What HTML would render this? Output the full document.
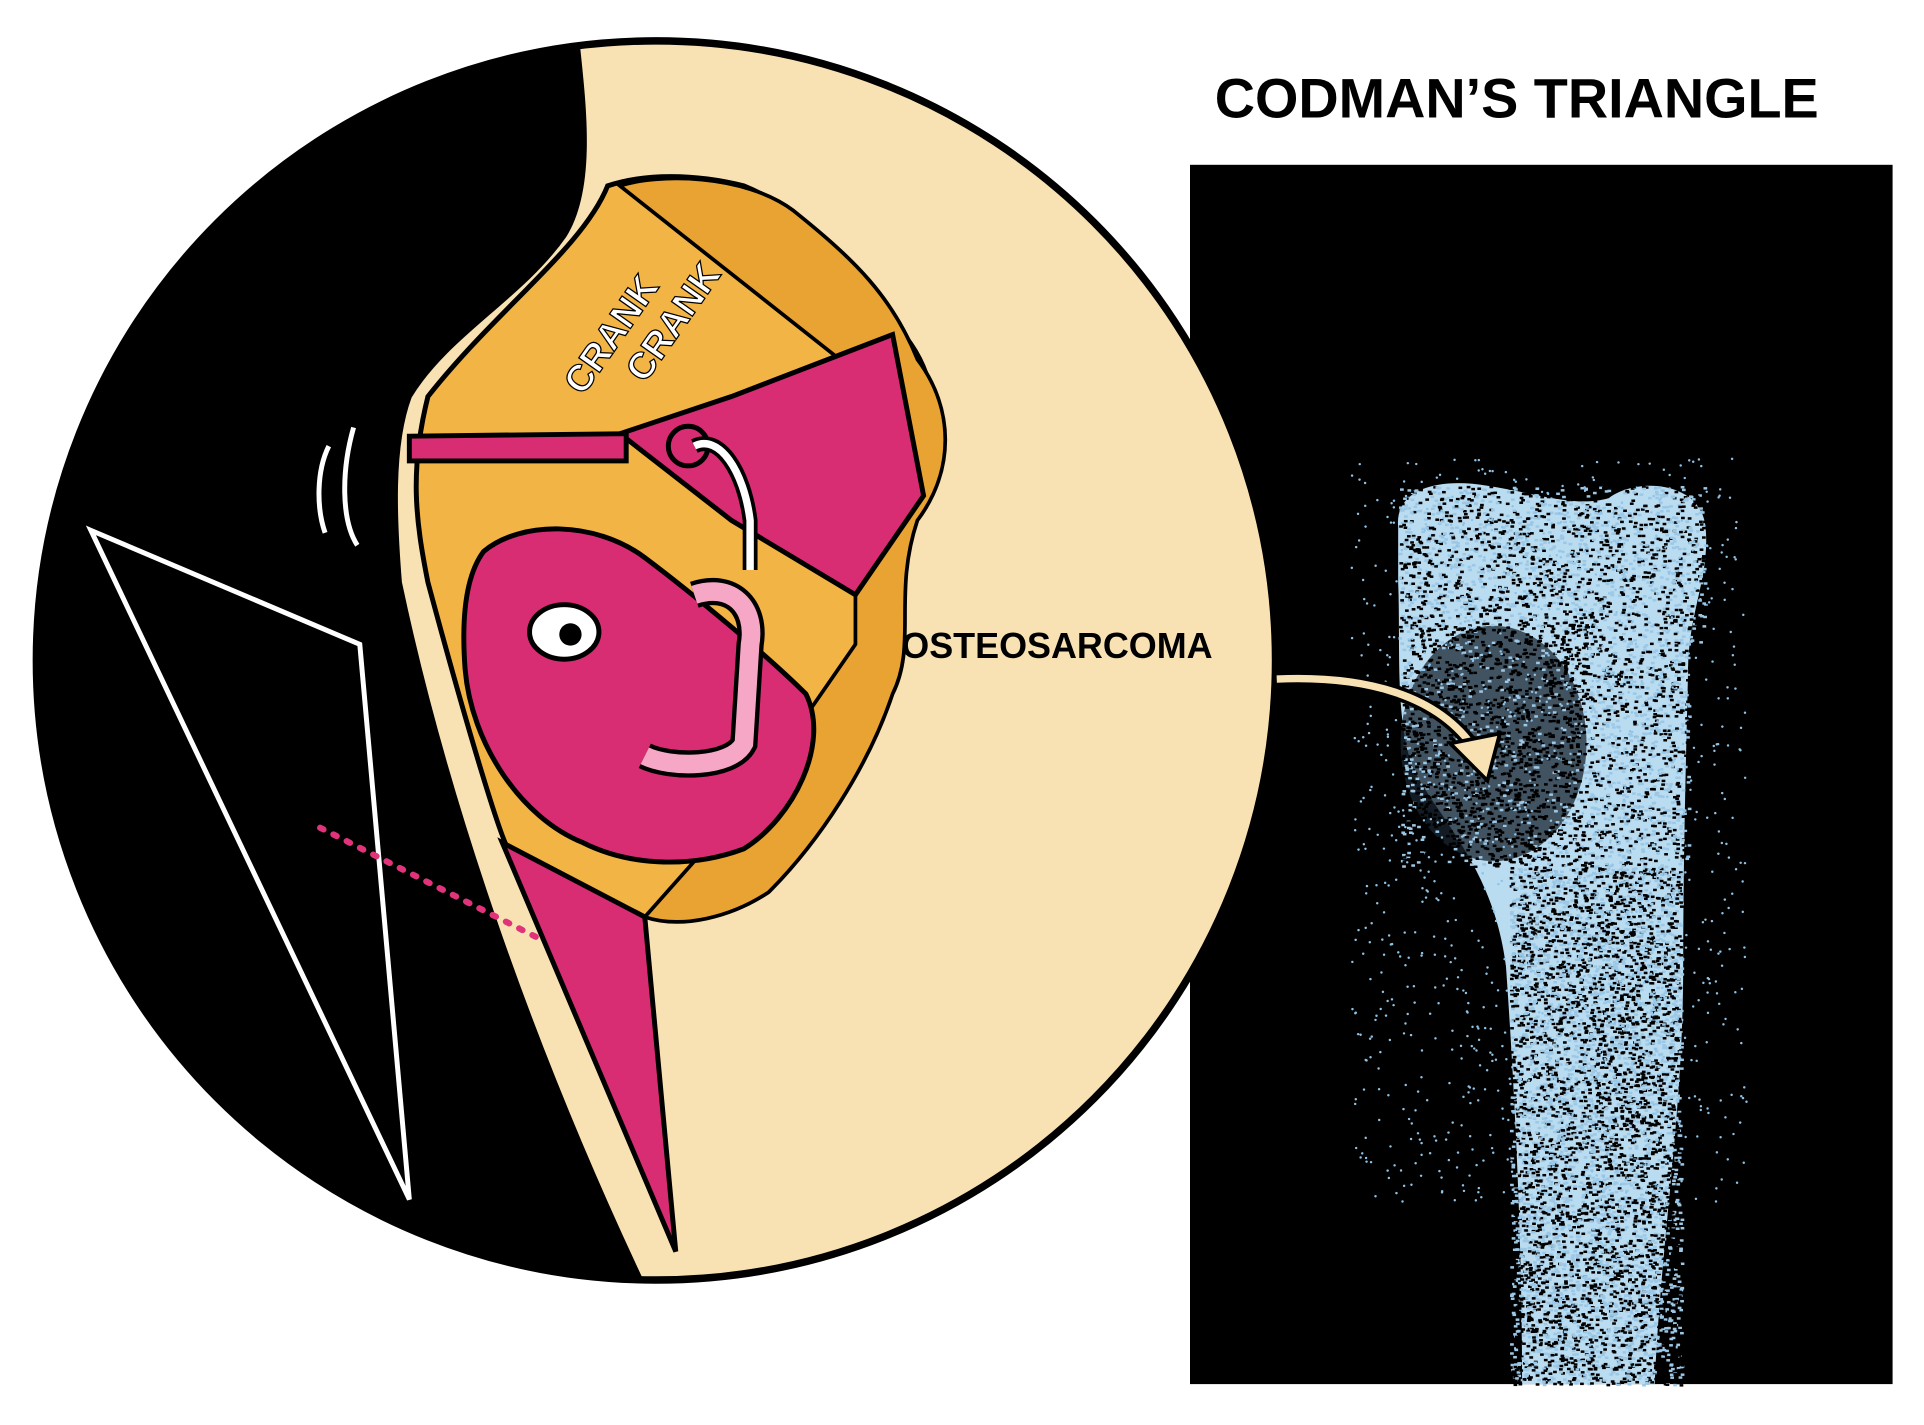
<!DOCTYPE html>
<html><head><meta charset="utf-8"><style>
html,body{margin:0;padding:0;background:#fff;width:1924px;height:1425px;overflow:hidden}
svg{display:block}
text{font-family:"Liberation Sans",sans-serif;font-weight:bold}
</style></head><body>
<svg id="s" width="1924" height="1425" viewBox="0 0 1552 1150" xmlns="http://www.w3.org/2000/svg">
<defs>
<clipPath id="circ"><circle cx="529" cy="533" r="500"/></clipPath>
</defs>
<rect width="1552" height="1150" fill="#fff"/>
<text x="980" y="95" font-size="45">CODMAN’S TRIANGLE</text>
<rect x="960" y="133" width="567" height="984" fill="#000"/>
<path id="bp" d="M1128,425 C1125,395 1160,385 1200,392 C1240,398 1270,410 1298,402 C1320,385 1372,388 1376,425 C1380,465 1362,495 1362,540 C1360,620 1358,700 1358,780 C1358,900 1340,1000 1335,1117 L1228,1117 C1228,1000 1222,880 1215,780 C1205,700 1160,660 1140,620 C1125,580 1130,520 1128,470 Z" fill="#b9dcf1"/>
<ellipse cx="1205" cy="600" rx="75" ry="95" fill="#1a2630" opacity="0.75"/>
<g id="spk"></g>
<g clip-path="url(#circ)">
<rect x="0" y="0" width="1100" height="1100" fill="#000"/>
<path d="M465,30 C470,80 480,150 455,190 C420,240 360,270 330,320 C315,360 318,420 322,470 C360,650 430,850 520,1040 L1100,1040 L1100,0 L465,0 Z" fill="#f8e2b3" stroke="#000" stroke-width="4"/>
<path d="M490,150 C470,200 400,250 345,320 C330,380 335,420 345,470 C380,600 405,680 410,685 L520,740 C600,700 650,680 680,600 C720,550 720,480 740,400 C760,350 760,300 720,260 C690,220 650,170 600,150 C560,140 520,140 490,150 Z" fill="#f2b445" stroke="#000" stroke-width="4"/>
<path d="M500,150 C530,140 600,140 640,170 C690,210 720,240 740,290 C770,330 770,380 740,420 C720,480 740,520 720,560 C700,620 660,680 620,720 C590,740 550,750 520,740 L600,650 L690,520 L690,300 Z" fill="#e8a332" stroke="#000" stroke-width="3"/>
<path d="M405,680 L520,740 L545,1010 Z" fill="#d92d73" stroke="#000" stroke-width="4"/>
<path d="M390,445 C420,420 480,420 520,450 C560,480 620,530 650,560 C670,600 640,660 600,685 C560,700 510,700 470,680 C420,660 380,600 375,540 C372,500 375,465 390,445 Z" fill="#d92d73" stroke="#000" stroke-width="4"/>
<path d="M500,350 L590,320 L720,270 L745,400 L690,480 L590,420 Z" fill="#d92d73" stroke="#000" stroke-width="4"/>
<path d="M330,352 L505,350 L505,372 L330,372 Z" fill="#d92d73" stroke="#000" stroke-width="4"/>
<circle cx="555" cy="360" r="16" fill="#d92d73" stroke="#000" stroke-width="4"/>
<path d="M560,360 C580,350 600,380 605,420 L605,460" fill="none" stroke="#000" stroke-width="12"/>
<path d="M560,360 C580,350 600,380 605,420 L605,460" fill="none" stroke="#fff" stroke-width="6"/>
<ellipse cx="455" cy="510" rx="28" ry="22" fill="#fff" stroke="#000" stroke-width="4"/>
<circle cx="460" cy="512" r="9" fill="#000"/>
<path d="M560,480 C590,470 610,490 605,520 L600,600 C590,620 540,620 520,610" fill="none" stroke="#000" stroke-width="22"/>
<path d="M560,480 C590,470 610,490 605,520 L600,600 C590,620 540,620 520,610" fill="none" stroke="#f5a7c5" stroke-width="15"/>
<text transform="translate(470,320) rotate(-55)" font-size="30" fill="#fff" stroke="#000" stroke-width="1">CRANK</text>
<text transform="translate(520,310) rotate(-55)" font-size="30" fill="#fff" stroke="#000" stroke-width="1">CRANK</text>
<path d="M265,360 C255,380 255,410 262,430 M285,345 C275,380 275,420 288,440" stroke="#fff" stroke-width="4" fill="none"/>
<polygon points="73,428 290,520 330,968" fill="none" stroke="#fff" stroke-width="4"/>
<line x1="258" y1="668" x2="432" y2="756" stroke="#e0337a" stroke-width="5" stroke-dasharray="3 9" stroke-linecap="round"/>
</g>
<circle cx="529" cy="533" r="500" fill="none" stroke="#000" stroke-width="6"/>
<text x="727" y="531" font-size="29">OSTEOSARCOMA</text>
<path d="M1030,548 C1100,545 1160,560 1190,605" fill="none" stroke="#000" stroke-width="12"/>
<path d="M1030,548 C1100,545 1160,560 1190,605" fill="none" stroke="#f8e2b3" stroke-width="6"/>
<polygon points="1170,600 1210,592 1200,630" fill="#f8e2b3" stroke="#000" stroke-width="3"/>
</svg>
<script>
(function(){
var g=document.getElementById('spk'),seed=7;
function r(){seed=(seed*16807)%2147483647;return seed/2147483647;}
var h='';
for(var i=0;i<11000;i++){
 var y=392+r()*725,x;
 var w=y<520?[1128,1375]:(y<700?[1130,1362]:[1218,1356]);
 x=w[0]+r()*(w[1]-w[0]);
 var dk=(x>1140&&x<1280&&y>500&&y<700)?0.85:0.5;
 h+='<rect x="'+x.toFixed(1)+'" y="'+y.toFixed(1)+'" width="3" height="2" fill="'+(r()<dk?'#000':'#9cc8e6')+'"/>';
}
for(var j=0;j<1200;j++){
 var yy=370+r()*600,xx=1090+r()*320;
 h+='<circle cx="'+xx.toFixed(1)+'" cy="'+yy.toFixed(1)+'" r="1" fill="#8fc3e6"/>';
}
g.innerHTML=h;
})();
</script>
</body></html>
